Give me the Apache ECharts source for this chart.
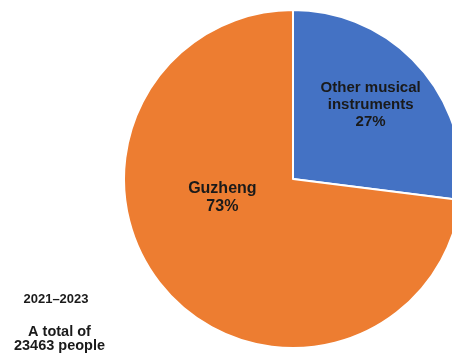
<!DOCTYPE html>
<html>
<head>
<meta charset="utf-8">
<script src="https://cdn.jsdelivr.net/npm/echarts@6/dist/echarts.min.js"></script>
<style>
  html, body { margin: 0; padding: 0; background: #fff; }
  #chart { width: 452px; height: 359px; }
</style>
</head>
<body>
<div id="chart"></div>
<script>
// Share of learners by instrument, 2021–2023
const categories = ['Other musical\ninstruments', 'Guzheng'];
const shares = [27, 73];
const sliceColors = ['#4472C4', '#ED7D31'];
const period = '2021–2023';
const totalLines = ['A total of', '23463 people'];

// label offsets from the default inside position, per slice
const labelOffsets = [[12, -16], [-5, -39]];
const labelSizes = [15, 16];

const FONT = '"Liberation Sans", Arial, sans-serif';

const chart = echarts.init(document.getElementById('chart'), null, { renderer: 'canvas' });

chart.setOption({
  animation: false,
  backgroundColor: '#ffffff',
  graphic: [
    {
      type: 'text',
      style: {
        x: 56, y: 299.5,
        text: period,
        align: 'center',
        verticalAlign: 'middle',
        font: 'bold 13px ' + FONT,
        fill: '#1a1a1a'
      }
    },
    {
      type: 'text',
      style: {
        x: 59.5, y: 332,
        text: totalLines[0],
        align: 'center',
        verticalAlign: 'middle',
        font: 'bold 14.5px ' + FONT,
        fill: '#1a1a1a'
      }
    },
    {
      type: 'text',
      style: {
        x: 59.5, y: 346,
        text: totalLines[1],
        align: 'center',
        verticalAlign: 'middle',
        font: 'bold 14.5px ' + FONT,
        fill: '#1a1a1a'
      }
    }
  ],
  series: [
    {
      type: 'pie',
      center: [293, 179],
      radius: [0, 169],
      startAngle: 90,
      clockwise: true,
      silent: true,
      itemStyle: { borderColor: '#ffffff', borderWidth: 2 },
      label: {
        show: true,
        position: 'inside',
        formatter: p => p.name + '\n' + p.value + '%',
        color: '#1a1a1a',
        fontFamily: FONT,
        fontWeight: 'bold',
        fontSize: 15,
        lineHeight: 16,
        align: 'center'
      },
      labelLine: { show: false },
      data: categories.map((name, i) => ({
        name,
        value: shares[i],
        itemStyle: { color: sliceColors[i] },
        label: { offset: labelOffsets[i], fontSize: labelSizes[i], lineHeight: labelSizes[i] + 2 }
      }))
    }
  ]
});
</script>
</body>
</html>
